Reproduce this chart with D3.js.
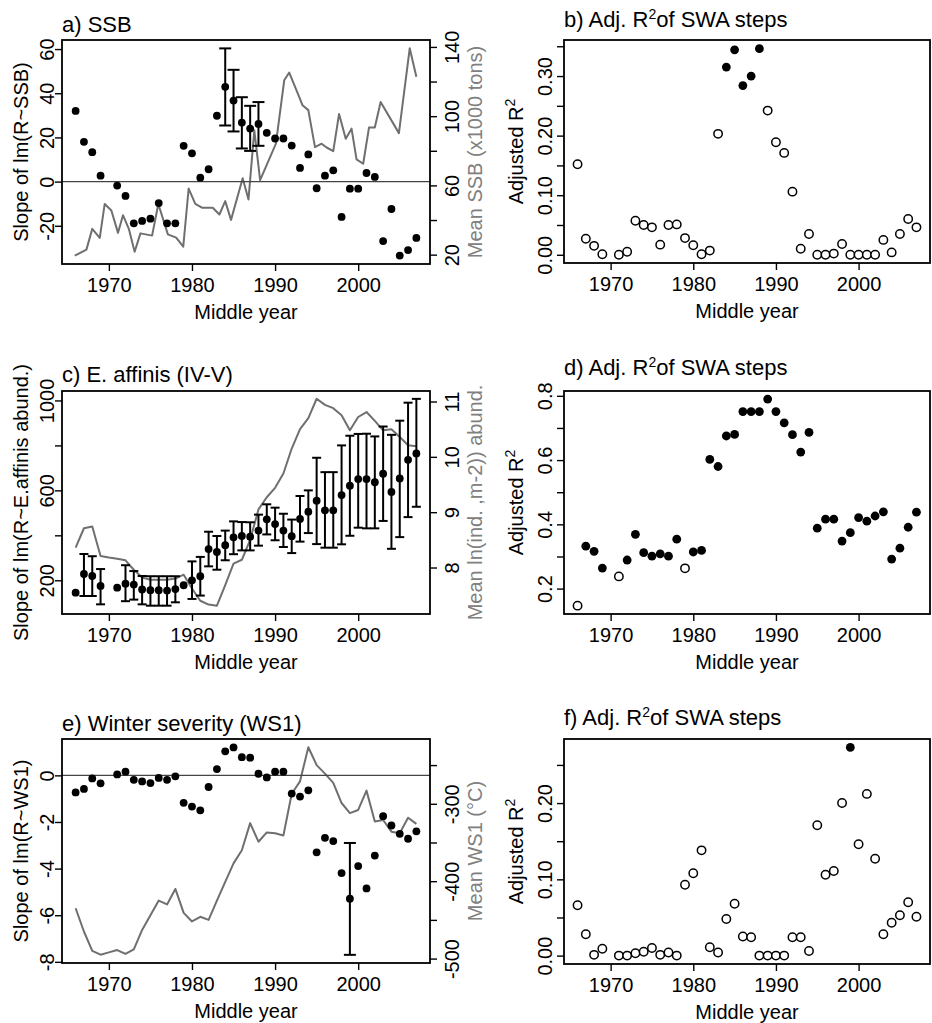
<!DOCTYPE html>
<html>
<head>
<meta charset="utf-8">
<script src="https://cdn.jsdelivr.net/npm/d3@7"></script>
<style>
  body { margin: 0; background: #fff; }
  svg text { font-family: "Liberation Sans", Arial, sans-serif; fill: #000; }
</style>
</head>
<body>
<svg id="fig" width="932" height="1023"></svg>
<script>
// middle years of the sliding windows (1970 is missing in every panel)
const years = [1966, 1967, 1968, 1969, 1971, 1972, 1973, 1974, 1975, 1976, 1977, 1978, 1979, 1980,
  1981, 1982, 1983, 1984, 1985, 1986, 1987, 1988, 1989, 1990, 1991, 1992, 1993, 1994, 1995, 1996,
  1997, 1998, 1999, 2000, 2001, 2002, 2003, 2004, 2005, 2006, 2007];
const lineYears = d3.range(1966, 2008);
const xTicks = [1970, 1980, 1990, 2000];

// a) SSB
const slopeSSB = [32.0, 18.0, 13.3, 2.7, -1.8, -6.5, -18.9, -17.8, -16.8, -9.7, -18.9, -18.9, 16.2, 12.8,
  1.8, 5.6, 29.8, 42.9, 36.7, 26.7, 24.0, 26.1, 22.1, 19.5, 19.5, 16.3, 6.2, 12.3, -3.0, 2.7,
  5.1, -16.0, -3.2, -3.2, 3.9, 2.1, -26.9, -12.4, -33.5, -31.0, -25.5];
const ssbBarYears = [1984, 1985, 1986, 1987, 1988];
const ssbBarLow = [25.4, 22.7, 15.0, 13.9, 16.2];
const ssbBarHigh = [60.3, 50.6, 38.2, 34.3, 36.0];
const ssbLineYear = [1965.9, 1967.3, 1968.0, 1968.9, 1969.5, 1970.3, 1971.1, 1971.7, 1972.4, 1973.1,
  1973.8, 1975.2, 1975.95, 1977.1, 1978.1, 1978.95, 1979.6, 1980.4, 1981.2, 1982.5, 1983.3, 1984.0,
  1984.7, 1986.1, 1986.8, 1987.5, 1988.2, 1990.1, 1991.1, 1991.7, 1992.9, 1993.3, 1994.0, 1994.8,
  1995.6, 1996.2, 1997.0, 1997.7, 1998.5, 1999.2, 1999.8, 2000.6, 2001.3, 2002.0, 2002.7, 2004.9,
  2006.2, 2007.0];
const ssbLineVal = [19.4, 22.9, 34.9, 29.7, 49.3, 45.5, 32.6, 42.8, 34.9, 21.7, 32.3, 31.0, 49.3, 31.7,
  29.8, 24.6, 58.2, 49.3, 47.1, 47.1, 43.2, 50.9, 40.1, 64.1, 51.9, 91.8, 63.0, 84.1, 120.7, 125.2,
  111.2, 106.3, 103.5, 82.1, 84.1, 81.9, 79.8, 101.3, 87.0, 92.8, 75.0, 72.5, 93.4, 93.4, 108.2,
  90.2, 139.2, 122.8];

// b) adj. R2, SSB
const r2SSB = [0.152, 0.027, 0.015, 0.001, 0.000, 0.005, 0.057, 0.050, 0.046, 0.017, 0.050, 0.051,
  0.028, 0.016, 0.001, 0.007, 0.203, 0.315, 0.344, 0.284, 0.300, 0.346, 0.242, 0.189, 0.171, 0.106,
  0.010, 0.035, 0.000, 0.000, 0.002, 0.018, 0.000, 0.000, 0.000, 0.000, 0.025, 0.004, 0.035, 0.060,
  0.046];
const sigSSB = [1984, 1985, 1986, 1987, 1988];

// c) E. affinis
const slopeEaff = [145, 228, 219, 175, 167, 185, 181, 159, 156, 156, 154, 161, 178, 200, 218, 339,
  326, 356, 391, 397, 394, 421, 471, 450, 421, 396, 473, 505, 554, 511, 511, 579, 621, 650, 650,
  636, 674, 593, 653, 736, 764];
const eaffBarLow = [null, 130, 130, 93, null, 107, 114, 93, 87, 87, 87, 102, null, 117, 132, 262,
  247, 289, 316, 333, 333, 354, 404, 378, 348, 321, 372, 410, 361, 345, 345, 360, 398, 434, 431,
  431, 464, 340, 392, 481, 527];
const eaffBarHigh = [null, 317, 307, 250, null, 267, 241, 219, 218, 218, 218, 218, null, 284, 304,
  416, 397, 421, 462, 459, 458, 492, 538, 523, 496, 470, 575, 600, 745, 681, 681, 800, 843, 851,
  852, 840, 884, 847, 910, 990, 1007];
const eaffLine = [8.36, 8.71, 8.74, 8.21, 8.18, 8.16, 8.13, 7.96, 7.82, 7.78, 7.78, 7.78, 7.80, 7.87,
  7.62, 7.40, 7.33, 7.31, 7.68, 8.07, 8.14, 8.50, 9.05, 9.27, 9.44, 9.70, 10.15, 10.50, 10.70, 11.05,
  10.94, 10.88, 10.75, 10.48, 10.72, 10.81, 10.65, 10.48, 10.50, 10.36, 10.21, 10.19];

// d) adj. R2, E. affinis
const r2Eaff = [0.147, 0.332, 0.316, 0.264, 0.238, 0.289, 0.369, 0.312, 0.301, 0.308, 0.301, 0.354,
  0.263, 0.314, 0.319, 0.602, 0.580, 0.675, 0.680, 0.751, 0.751, 0.751, 0.790, 0.751, 0.716, 0.679,
  0.625, 0.686, 0.388, 0.416, 0.416, 0.348, 0.374, 0.421, 0.410, 0.426, 0.439, 0.292, 0.326, 0.391,
  0.438];
const notSigEaff = [1966, 1971, 1979];

// e) winter severity
const slopeWS1 = [-0.73, -0.58, -0.13, -0.34, 0.04, 0.16, -0.19, -0.26, -0.33, -0.11, -0.19, -0.04,
  -1.18, -1.34, -1.50, -0.50, 0.27, 1.03, 1.20, 0.78, 0.76, 0.07, -0.09, 0.16, 0.16, -0.78, -0.91,
  -0.64, -3.30, -2.68, -2.82, -4.19, -5.29, -3.89, -4.85, -3.44, -1.75, -2.15, -2.51, -2.72, -2.40];
const ws1BarYears = [1999];
const ws1BarLow = [-7.70];
const ws1BarHigh = [-2.90];
const ws1Line = [-435, -465, -490, -495, -492, -489, -494, -488, -463, -444, -425, -430, -410, -441,
  -452, -446, -450, -425, -401, -377, -360, -325, -349, -337, -338, -341, -287, -271, -227, -250,
  -261, -273, -299, -312, -308, -283, -323, -321, -336, -338, -318, -326];

// f) adj. R2, WS1
const r2WS1 = [0.066, 0.028, 0.001, 0.009, 0.000, 0.000, 0.003, 0.005, 0.010, 0.001, 0.004, 0.000,
  0.093, 0.108, 0.138, 0.011, 0.004, 0.048, 0.068, 0.025, 0.024, 0.000, 0.000, 0.000, 0.000, 0.024,
  0.024, 0.006, 0.171, 0.106, 0.111, 0.200, 0.273, 0.146, 0.212, 0.127, 0.028, 0.043, 0.053, 0.070,
  0.051];
const sigWS1 = [1999];

const svg = d3.select("#fig");
const xDomain = [1964.36, 2008.64];
const GRAY = "#6f6f6f";

function yAxis(g, scale, side, x, ticks, labels, off) {
  const ax = side === "left" ? d3.axisLeft(scale) : d3.axisRight(scale);
  const a = g.append("g").attr("transform", `translate(${x},0)`)
    .call(ax.tickValues(ticks).tickSize(7).tickSizeOuter(0).tickFormat((d, i) => labels[i]));
  a.select(".domain").remove();
  a.selectAll(".tick line").attr("stroke-width", 1.4);
  a.selectAll(".tick text")
    .attr("x", null).attr("dy", "0.36em")
    .attr("transform", `translate(${side === "left" ? -off : off},0) rotate(-90)`)
    .attr("text-anchor", "middle")
    .style("font-size", "20px");
}

// plain strings, or {sup: "2"} for a raised part
function addParts(t, parts) {
  let back = 0;
  parts.forEach(p => {
    if (typeof p === "string") {
      const s = t.append("tspan").text(p);
      if (back) s.attr("dy", back);
      back = 0;
    } else {
      t.append("tspan").attr("dy", -8).style("font-size", "14px").text(p.sup);
      back = 8;
    }
  });
}

function rotLabel(g, x, y, parts, color) {
  const t = g.append("text")
    .attr("transform", `translate(${x},${y}) rotate(-90)`)
    .attr("text-anchor", "middle").attr("dy", "0.36em")
    .style("font-size", "20px").style("fill", color || "#000");
  addParts(t, parts);
}

function panel(cfg) {
  const g = svg.append("g");
  const x = d3.scaleLinear().domain(xDomain).range([cfg.left, cfg.right]);
  const y = d3.scaleLinear().domain(cfg.yDomain).range([cfg.bottom, cfg.top]);

  // title
  const t = g.append("text").attr("x", cfg.left).attr("y", cfg.titleY).style("font-size", "22px");
  addParts(t, cfg.title);

  // x axis
  const xa = g.append("g").attr("transform", `translate(0,${cfg.bottom})`)
    .call(d3.axisBottom(x).tickValues(xTicks).tickSize(7).tickSizeOuter(0).tickFormat(d3.format("d")));
  xa.select(".domain").remove();
  xa.selectAll(".tick line").attr("stroke-width", 1.4);
  xa.selectAll(".tick text").attr("y", 28).attr("dy", null).style("font-size", "20px");
  g.append("text").attr("x", (cfg.left + cfg.right) / 2).attr("y", cfg.bottom + 55)
    .attr("text-anchor", "middle").style("font-size", "20px").text("Middle year");

  // left y axis
  yAxis(g, y, "left", cfg.left, cfg.yTicks, cfg.yLabels, cfg.yLabOff);
  rotLabel(g, cfg.left - cfg.yTitleOff, (cfg.top + cfg.bottom) / 2, cfg.yTitle);

  // right axis and grey series
  if (cfg.line) {
    const y2 = d3.scaleLinear().domain(cfg.y2Domain).range([cfg.bottom, cfg.top]);
    yAxis(g, y2, "right", cfg.right, cfg.y2Ticks, cfg.y2Labels, 22);
    rotLabel(g, cfg.right + 45, (cfg.top + cfg.bottom) / 2, [cfg.y2Title], "#808080");
    g.append("path")
      .datum(d3.zip(cfg.line.x, cfg.line.y))
      .attr("fill", "none").attr("stroke", GRAY).attr("stroke-width", 2)
      .attr("stroke-linejoin", "round")
      .attr("d", d3.line().x(d => x(d[0])).y(d => y2(d[1])));
  }

  if (cfg.zeroLine) {
    g.append("line").attr("x1", cfg.left).attr("x2", cfg.right)
      .attr("y1", y(0)).attr("y2", y(0)).attr("stroke", "#444").attr("stroke-width", 1.4);
  }

  // error bars
  if (cfg.bars) {
    const bars = d3.zip(cfg.bars.x, cfg.bars.lo, cfg.bars.hi).filter(d => d[1] != null);
    const bg = g.append("g").attr("stroke", "#000").attr("stroke-width", 2);
    bars.forEach(([yr, lo, hi]) => {
      const cx = x(yr);
      bg.append("line").attr("x1", cx).attr("x2", cx).attr("y1", y(lo)).attr("y2", y(hi));
      [lo, hi].forEach(v => bg.append("line")
        .attr("x1", cx - cfg.cap).attr("x2", cx + cfg.cap).attr("y1", y(v)).attr("y2", y(v)));
    });
  }

  // points
  g.append("g").selectAll("circle")
    .data(d3.zip(years, cfg.values))
    .join("circle")
    .attr("cx", d => x(d[0]))
    .attr("cy", d => y(d[1]))
    .attr("r", d => cfg.filled(d[0]) ? cfg.r : cfg.r - 0.2)
    .attr("fill", d => cfg.filled(d[0]) ? "#000" : "#fff")
    .attr("stroke", "#000")
    .attr("stroke-width", d => cfg.filled(d[0]) ? 0 : 1.5);

  // frame
  g.append("rect").attr("x", cfg.left).attr("y", cfg.top)
    .attr("width", cfg.right - cfg.left).attr("height", cfg.bottom - cfg.top)
    .attr("fill", "none").attr("stroke", "#000").attr("stroke-width", 1.8);
}

const L = { left: 62, right: 430, yLabOff: 15, yTitleOff: 41 };
const R = { left: 564, right: 930, yLabOff: 19, yTitleOff: 48 };
const r2Title = l => [l + ") Adj. R", { sup: "2" }, "of SWA steps"];
const r2YTitle = ["Adjusted R", { sup: "2" }];

panel({ ...L, top: 40, bottom: 264, titleY: 32, title: ["a) SSB"],
  yDomain: [-37.3, 64.1], yTicks: [-20, 0, 20, 40, 60], yLabels: ["-20", "0", "20", "40", "60"],
  yTitle: ["Slope of lm(R~SSB)"], values: slopeSSB, filled: () => true, r: 3.9,
  zeroLine: true, cap: 6,
  bars: { x: ssbBarYears, lo: ssbBarLow, hi: ssbBarHigh },
  line: { x: ssbLineYear, y: ssbLineVal },
  y2Domain: [14.6, 144], y2Ticks: [20, 40, 60, 80, 100, 120, 140],
  y2Labels: ["20", "", "60", "", "100", "", "140"], y2Title: "Mean SSB (x1000 tons)" });

panel({ ...R, top: 40, bottom: 263, titleY: 27, title: r2Title("b"),
  yDomain: [-0.0138, 0.3605], yTicks: [0, 0.05, 0.1, 0.15, 0.2, 0.25, 0.3, 0.35],
  yLabels: ["0.00", "", "0.10", "", "0.20", "", "0.30", ""],
  yTitle: r2YTitle, values: r2SSB, filled: yr => sigSSB.includes(yr), r: 4.4 });

panel({ ...L, top: 391, bottom: 614, titleY: 382, title: ["c) E. affinis (IV-V)"],
  yDomain: [50, 1042], yTicks: [200, 400, 600, 800, 1000], yLabels: ["200", "", "600", "", "1000"],
  yTitle: ["Slope of lm(R~E.affinis abund.)"], values: slopeEaff, filled: () => true, r: 3.9,
  cap: 4.5, bars: { x: years, lo: eaffBarLow, hi: eaffBarHigh },
  line: { x: lineYears, y: eaffLine },
  y2Domain: [7.16, 11.19], y2Ticks: [8, 9, 10, 11], y2Labels: ["8", "9", "10", "11"],
  y2Title: "Mean ln(ind. ,m-2)) abund." });

panel({ ...R, top: 391, bottom: 614, titleY: 375, title: r2Title("d"),
  yDomain: [0.121, 0.815], yTicks: [0.2, 0.3, 0.4, 0.5, 0.6, 0.7, 0.8],
  yLabels: ["0.2", "", "0.4", "", "0.6", "", "0.8"],
  yTitle: r2YTitle, values: r2Eaff, filled: yr => !notSigEaff.includes(yr), r: 4.4 });

panel({ ...L, top: 739, bottom: 963, titleY: 731, title: ["e) Winter severity (WS1)"],
  yDomain: [-8.05, 1.56], yTicks: [-8, -6, -4, -2, 0], yLabels: ["-8", "-6", "-4", "-2", "0"],
  yTitle: ["Slope of lm(R~WS1)"], values: slopeWS1, filled: () => true, r: 3.9,
  zeroLine: true, cap: 6,
  bars: { x: ws1BarYears, lo: ws1BarLow, hi: ws1BarHigh },
  line: { x: lineYears, y: ws1Line },
  y2Domain: [-505.7, -216.3], y2Ticks: [-500, -450, -400, -350, -300, -250],
  y2Labels: ["-500", "", "-400", "", "-300", ""], y2Title: "Mean WS1 (°C)" });

panel({ ...R, top: 739, bottom: 964, titleY: 725, title: r2Title("f"),
  yDomain: [-0.011, 0.284], yTicks: [0, 0.05, 0.1, 0.15, 0.2, 0.25],
  yLabels: ["0.00", "", "0.10", "", "0.20", ""],
  yTitle: r2YTitle, values: r2WS1, filled: yr => sigWS1.includes(yr), r: 4.4 });
</script>
</body>
</html>
